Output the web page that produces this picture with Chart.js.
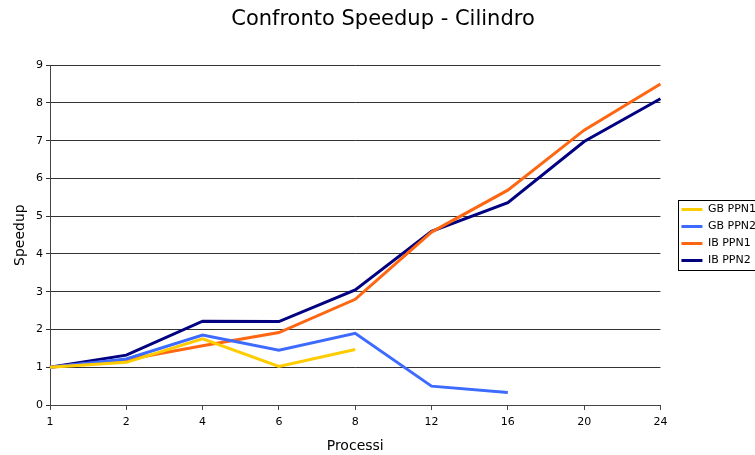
<!DOCTYPE html>
<html>
<head>
<meta charset="utf-8">
<script src="https://cdn.jsdelivr.net/npm/chart.js@4"></script>
<style>
    html, body { margin: 0; padding: 0; background: #ffffff; overflow: hidden; }
    #wrap { width: 755px; height: 455px; overflow: hidden; }
    #box { width: 766px; height: 455px; }
</style>
</head>
<body>
<div id="wrap"><div id="box"><canvas id="myChart"></canvas></div></div>
<script>
"use strict";

// dati
const processi = ["1", "2", "4", "6", "8", "12", "16", "20", "24"];

const gbPpn1 = [1.0, 1.13, 1.75, 1.02, 1.47, null, null, null, null];
const gbPpn2 = [1.0, 1.22, 1.85, 1.45, 1.9, 0.5, 0.33, null, null];
const ibPpn1 = [1.0, 1.2, 1.57, 1.92, 2.8, 4.58, 5.69, 7.28, 8.5];
const ibPpn2 = [1.0, 1.32, 2.22, 2.21, 3.05, 4.6, 5.36, 6.98, 8.11];

const seriesNames = ["GB PPN1", "GB PPN2", "IB PPN1", "IB PPN2"];
const seriesColors = ["#ffcc00", "#3d6bff", "#ff6611", "#000080"];

const FONT = "'DejaVu Sans', sans-serif";

// cornice attorno alle voci della legenda
const legendBorder = {
    id: "legendBorder",
    afterDraw: (chart) => {
        const lg = chart.legend;
        if (!lg || !lg.legendHitBoxes || !lg.legendHitBoxes.length) return;
        const boxes = lg.legendHitBoxes;
        const first = boxes[0];
        const last = boxes[boxes.length - 1];
        const x = Math.round(lg.left + 3) + 0.5;
        const y = Math.round(first.top - 4) + 0.5;
        const h = Math.round(last.top + last.height + 4) - Math.round(first.top - 4);
        const ctx = chart.ctx;
        ctx.save();
        ctx.strokeStyle = "#000000";
        ctx.lineWidth = 1;
        ctx.strokeRect(x, y, chart.width - x + 5, h);
        ctx.restore();
    },
};

const renderChart = () => {
    const ctx = document.getElementById("myChart").getContext("2d");
    const all = [gbPpn1, gbPpn2, ibPpn1, ibPpn2];

    new Chart(ctx, {
        type: "line",
        data: {
            labels: processi,
            datasets: all.map((d, i) => ({
                label: seriesNames[i],
                data: d,
                borderColor: seriesColors[i],
                backgroundColor: seriesColors[i],
                borderWidth: 3,
                pointRadius: 0,
                tension: 0,
                spanGaps: false,
                yAxisID: "y",
            })),
        },
        options: {
            responsive: true,
            maintainAspectRatio: false,
            animation: false,
            layout: { padding: { left: 0, right: 0, top: 0, bottom: 0 } },
            plugins: {
                title: {
                    display: true,
                    text: "Confronto Speedup - Cilindro",
                    color: "#000000",
                    font: { family: FONT, size: 21, weight: "normal" },
                    padding: { top: 7, bottom: 33 },
                },
                legend: {
                    display: true,
                    position: "right",
                    fullSize: false,
                    labels: {
                        color: "#000000",
                        font: { family: FONT, size: 11 },
                        usePointStyle: true,
                        pointStyle: "line",
                        pointStyleWidth: 21,
                        padding: 6,
                    },
                },
                tooltip: { enabled: false },
            },
            scales: {
                x: {
                    offset: false,
                    title: {
                        display: true,
                        text: "Processi",
                        color: "#000000",
                        font: { family: FONT, size: 14 },
                        padding: { top: 3, bottom: 0 },
                    },
                    grid: { drawOnChartArea: false, drawTicks: true, tickLength: 5, color: "#444444" },
                    border: { color: "#444444", width: 1 },
                    ticks: {
                        color: "#000000",
                        font: { family: FONT, size: 11 },
                        maxRotation: 0,
                        padding: 6,
                    },
                },
                y: {
                    min: 0,
                    max: 9,
                    afterFit: (scale) => {
                        scale.width = 50;
                    },
                    title: {
                        display: true,
                        text: "Speedup",
                        color: "#000000",
                        font: { family: FONT, size: 14 },
                        padding: { top: 12, bottom: 4 },
                    },
                    grid: { color: "#333333", drawTicks: true, tickLength: 4 },
                    border: { color: "#444444", width: 1 },
                    ticks: {
                        stepSize: 1,
                        color: "#000000",
                        font: { family: FONT, size: 11 },
                        padding: 3,
                    },
                },
                // spazio vuoto tra l'area del grafico e la legenda
                gap: {
                    type: "linear",
                    position: "right",
                    display: true,
                    afterFit: (scale) => {
                        scale.width = 15;
                    },
                    grid: { display: false },
                    border: { display: false },
                    ticks: { display: false },
                },
            },
        },
        plugins: [legendBorder],
    });
};

window.onload = () => {
    renderChart();
};
</script>
</body>
</html>
